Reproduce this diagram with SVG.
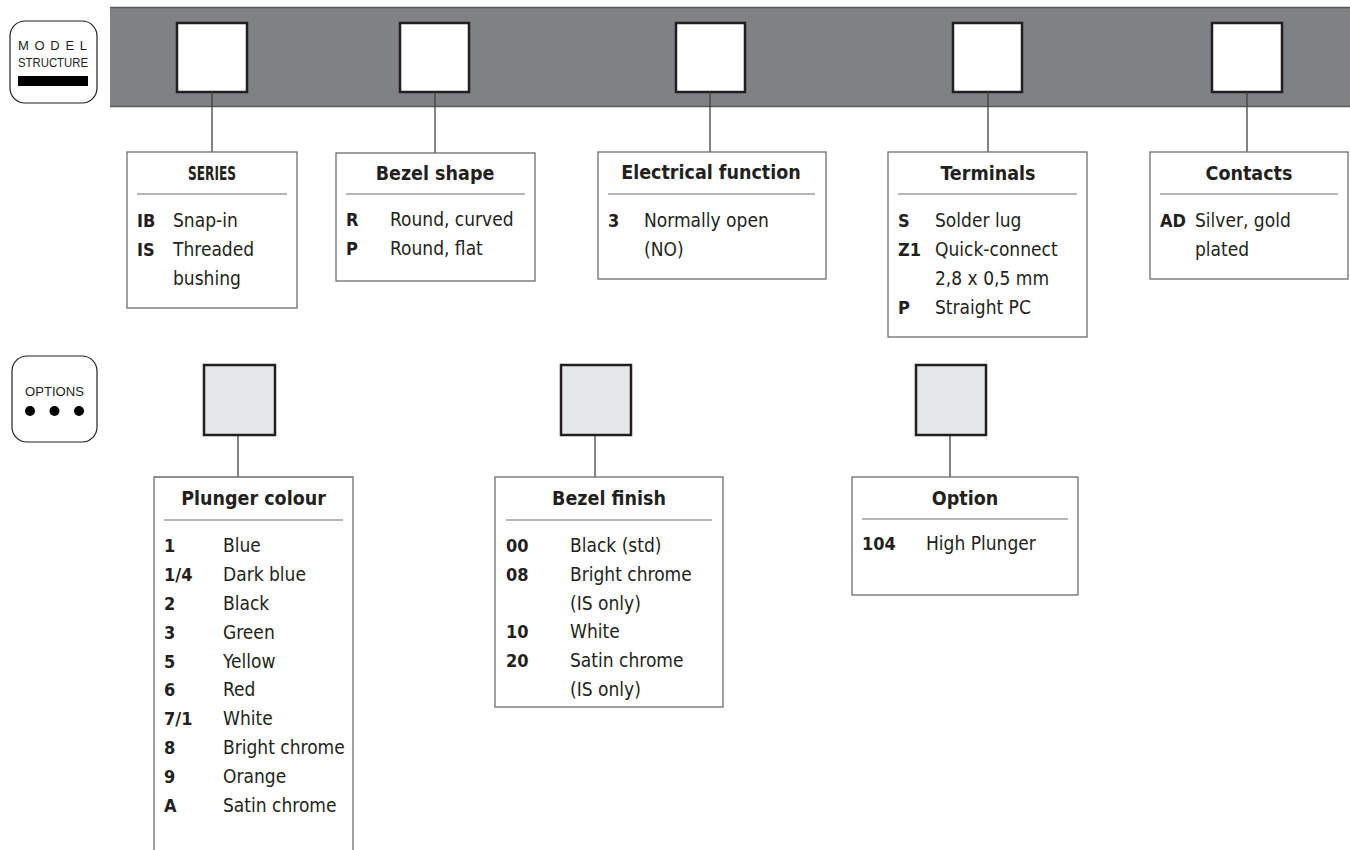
<svg xmlns="http://www.w3.org/2000/svg" width="1350" height="850" viewBox="0 0 1350 850">
<style>
.bg{fill:#ffffff}
.bar{fill:#808184}
.barEdge{stroke:#58595b;stroke-width:1.5}
.slot{fill:#ffffff;stroke:#231f20;stroke-width:2.5}
.oslot{fill:#e6e7e8;stroke:#231f20;stroke-width:2.5}
.box{fill:#ffffff;stroke:#6d6e71;stroke-width:1.3}
.sep{stroke:#6d6e71;stroke-width:1.2}
.conn{stroke:#414042;stroke-width:1.3;fill:none}
.badge{fill:#ffffff;stroke:#231f20;stroke-width:1.2}
.title{font-family:"DejaVu Sans Condensed","DejaVu Sans",sans-serif;font-weight:bold;font-size:19.5px;fill:#231f20;text-anchor:middle}
.code{font-family:"DejaVu Sans Condensed","DejaVu Sans",sans-serif;font-weight:bold;font-size:18px;fill:#231f20}
.desc{font-family:"DejaVu Sans Condensed","DejaVu Sans",sans-serif;font-size:19px;fill:#231f20}
.bt{font-family:"Liberation Sans",Arial,sans-serif;fill:#231f20}
</style>
<rect class="bg" x="0" y="0" width="1350" height="850"/>

<g id="model-badge">
<rect class="badge" x="10" y="21" width="87" height="82" rx="15"/>
<text class="bt" x="18" y="50" font-size="13" textLength="69" lengthAdjust="spacing">MODEL</text>
<text class="bt" x="18" y="67" font-size="13" textLength="70" lengthAdjust="spacingAndGlyphs">STRUCTURE</text>
<rect x="18" y="76" width="70" height="10" fill="#000000"/>
</g>

<g id="options-badge">
<rect class="badge" x="12" y="356" width="85" height="86" rx="15"/>
<text class="bt" x="54.5" y="396" font-size="13.5" text-anchor="middle" textLength="59" lengthAdjust="spacingAndGlyphs">OPTIONS</text>
<circle cx="30" cy="411" r="5" fill="#000"/>
<circle cx="54.5" cy="411" r="5" fill="#000"/>
<circle cx="79" cy="411" r="5" fill="#000"/>
</g>

<g id="model-bar">
<rect class="bar" x="110" y="7" width="1240" height="100"/>
<line class="barEdge" x1="110" y1="7.5" x2="1350" y2="7.5"/>
<line class="barEdge" x1="110" y1="106.5" x2="1350" y2="106.5"/>
<rect class="slot" x="177" y="23" width="70" height="69"/>
<rect class="slot" x="400" y="23" width="69" height="69"/>
<rect class="slot" x="676" y="23" width="69" height="69"/>
<rect class="slot" x="953" y="23" width="69" height="69"/>
<rect class="slot" x="1212" y="23" width="70" height="69"/>
</g>

<g id="connectors">
<line class="conn" x1="212" y1="92" x2="212" y2="152"/>
<line class="conn" x1="435" y1="92" x2="435" y2="153"/>
<line class="conn" x1="710" y1="92" x2="710" y2="152"/>
<line class="conn" x1="988" y1="92" x2="988" y2="152"/>
<line class="conn" x1="1247" y1="92" x2="1247" y2="152"/>
<line class="conn" x1="238" y1="435" x2="238" y2="477"/>
<line class="conn" x1="595" y1="435" x2="595" y2="477"/>
<line class="conn" x1="950" y1="435" x2="950" y2="477"/>
</g>

<g id="series">
<rect class="box" x="127" y="152" width="170" height="156"/>
<text class="title" x="212" y="180" font-size="15" textLength="48" lengthAdjust="spacingAndGlyphs">SERIES</text>
<line class="sep" x1="137" y1="194" x2="287" y2="194"/>
<text class="code" x="137" y="227">IB</text><text class="desc" x="173" y="227">Snap-in</text>
<text class="code" x="137" y="256">IS</text><text class="desc" x="173" y="256">Threaded</text>
<text class="desc" x="173" y="285">bushing</text>
</g>

<g id="bezel-shape">
<rect class="box" x="336" y="153" width="199" height="128"/>
<text class="title" x="435" y="180">Bezel shape</text>
<line class="sep" x1="346" y1="194" x2="525" y2="194"/>
<text class="code" x="346" y="226">R</text><text class="desc" x="390" y="226">Round, curved</text>
<text class="code" x="346" y="255">P</text><text class="desc" x="390" y="255">Round, flat</text>
</g>

<g id="electrical-function">
<rect class="box" x="598" y="152" width="228" height="127"/>
<text class="title" x="711" y="179">Electrical function</text>
<line class="sep" x1="608" y1="194" x2="815" y2="194"/>
<text class="code" x="608" y="227">3</text><text class="desc" x="644" y="227">Normally open</text>
<text class="desc" x="644" y="256">(NO)</text>
</g>

<g id="terminals">
<rect class="box" x="888" y="152" width="199" height="185"/>
<text class="title" x="988" y="180">Terminals</text>
<line class="sep" x1="898" y1="194" x2="1077" y2="194"/>
<text class="code" x="898" y="227">S</text><text class="desc" x="935" y="227">Solder lug</text>
<text class="code" x="898" y="256">Z1</text><text class="desc" x="935" y="256">Quick-connect</text>
<text class="desc" x="935" y="285">2,8 x 0,5 mm</text>
<text class="code" x="898" y="314">P</text><text class="desc" x="935" y="314">Straight PC</text>
</g>

<g id="contacts">
<rect class="box" x="1150" y="152" width="198" height="127"/>
<text class="title" x="1249" y="180">Contacts</text>
<line class="sep" x1="1160" y1="194" x2="1338" y2="194"/>
<text class="code" x="1160" y="227">AD</text><text class="desc" x="1195" y="227">Silver, gold</text>
<text class="desc" x="1195" y="256">plated</text>
</g>

<g id="option-slots">
<rect class="oslot" x="204" y="365" width="71" height="70"/>
<rect class="oslot" x="561" y="365" width="70" height="70"/>
<rect class="oslot" x="916" y="365" width="70" height="70"/>
</g>

<g id="plunger-colour">
<path class="box" d="M154 851 V477 H353 V851"/>
<text class="title" x="253.5" y="505">Plunger colour</text>
<line class="sep" x1="164" y1="520" x2="343" y2="520"/>
<text class="code" x="164" y="552">1</text><text class="desc" x="223" y="552">Blue</text>
<text class="code" x="164" y="581">1/4</text><text class="desc" x="223" y="581">Dark blue</text>
<text class="code" x="164" y="610">2</text><text class="desc" x="223" y="610">Black</text>
<text class="code" x="164" y="639">3</text><text class="desc" x="223" y="639">Green</text>
<text class="code" x="164" y="668">5</text><text class="desc" x="223" y="668">Yellow</text>
<text class="code" x="164" y="696">6</text><text class="desc" x="223" y="696">Red</text>
<text class="code" x="164" y="725">7/1</text><text class="desc" x="223" y="725">White</text>
<text class="code" x="164" y="754">8</text><text class="desc" x="223" y="754">Bright chrome</text>
<text class="code" x="164" y="783">9</text><text class="desc" x="223" y="783">Orange</text>
<text class="code" x="164" y="812">A</text><text class="desc" x="223" y="812">Satin chrome</text>
</g>

<g id="bezel-finish">
<rect class="box" x="495" y="477" width="228" height="230"/>
<text class="title" x="609" y="505">Bezel finish</text>
<line class="sep" x1="506" y1="520" x2="712" y2="520"/>
<text class="code" x="506" y="552">00</text><text class="desc" x="570" y="552">Black (std)</text>
<text class="code" x="506" y="581">08</text><text class="desc" x="570" y="581">Bright chrome</text>
<text class="desc" x="570" y="610">(IS only)</text>
<text class="code" x="506" y="638">10</text><text class="desc" x="570" y="638">White</text>
<text class="code" x="506" y="667">20</text><text class="desc" x="570" y="667">Satin chrome</text>
<text class="desc" x="570" y="696">(IS only)</text>
</g>

<g id="option">
<rect class="box" x="852" y="477" width="226" height="118"/>
<text class="title" x="965" y="505">Option</text>
<line class="sep" x1="862" y1="519" x2="1068" y2="519"/>
<text class="code" x="862" y="550">104</text><text class="desc" x="926" y="550">High Plunger</text>
</g>
</svg>
